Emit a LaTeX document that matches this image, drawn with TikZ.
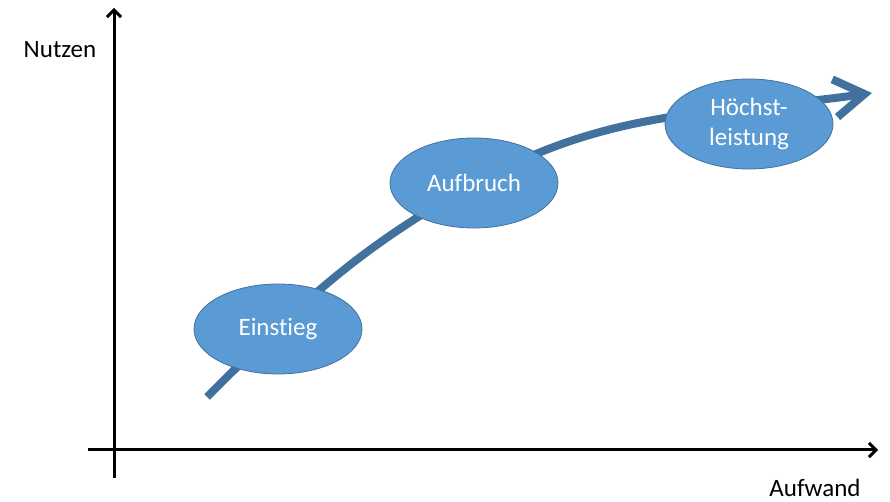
\documentclass[tikz,border=0pt]{standalone}
\usepackage{fontspec}
\setmainfont[Ligatures=NoCommon]{Carlito}
\usetikzlibrary{arrows.meta,shapes.geometric}
\definecolor{phasefill}{HTML}{5B9BD5}
\definecolor{phaseline}{HTML}{41719C}
\begin{document}
\begin{tikzpicture}[x=1pt,y=1pt,
  axis/.style={line width=3pt,-{Straight Barb[length=7pt,width=14pt]}},
  phase/.style={ellipse,draw=phaseline,line width=0.8pt,fill=phasefill,
    minimum width=168pt,minimum height=90pt,inner sep=0pt,
    text=white,font=\fontsize{25}{30}\selectfont,align=center},
  growth/.style={line width=8pt,draw=phaseline,
    -{Straight Barb[length=30pt,width=38pt]}},
  axislabel/.style={font=\fontsize{25}{30}\selectfont,inner sep=1pt}]
\useasboundingbox (0,0) rectangle (890,502);
% axes
\coordinate (yb) at (114,24);
\coordinate (yt) at (114,494);
\coordinate (xl) at (88,52);
\coordinate (xr) at (878,52);
\draw[axis] (yb) -- (yt);
\draw[axis] (xl) -- (xr);
\node[axislabel] (nutzen) at (60,452) {Nutzen};
\node[axislabel,anchor=base] (aufwand) at (815,5) {Aufwand};
% growth curve
\coordinate (g0) at (207,105);
\coordinate (g1) at (474,318);
\coordinate (g2) at (872,409);
\draw[growth] (g0) to[out=45,in=209] (g1) to[out=29,in=188] (g2);
% phases
\node[phase] (einstieg) at (278,173) {Einstieg};
\node[phase] (aufbruch) at (474,319) {Aufbruch};
\node[phase] (hoechst) at (749,378) {Höchst-\\leistung};
\end{tikzpicture}
\end{document}
